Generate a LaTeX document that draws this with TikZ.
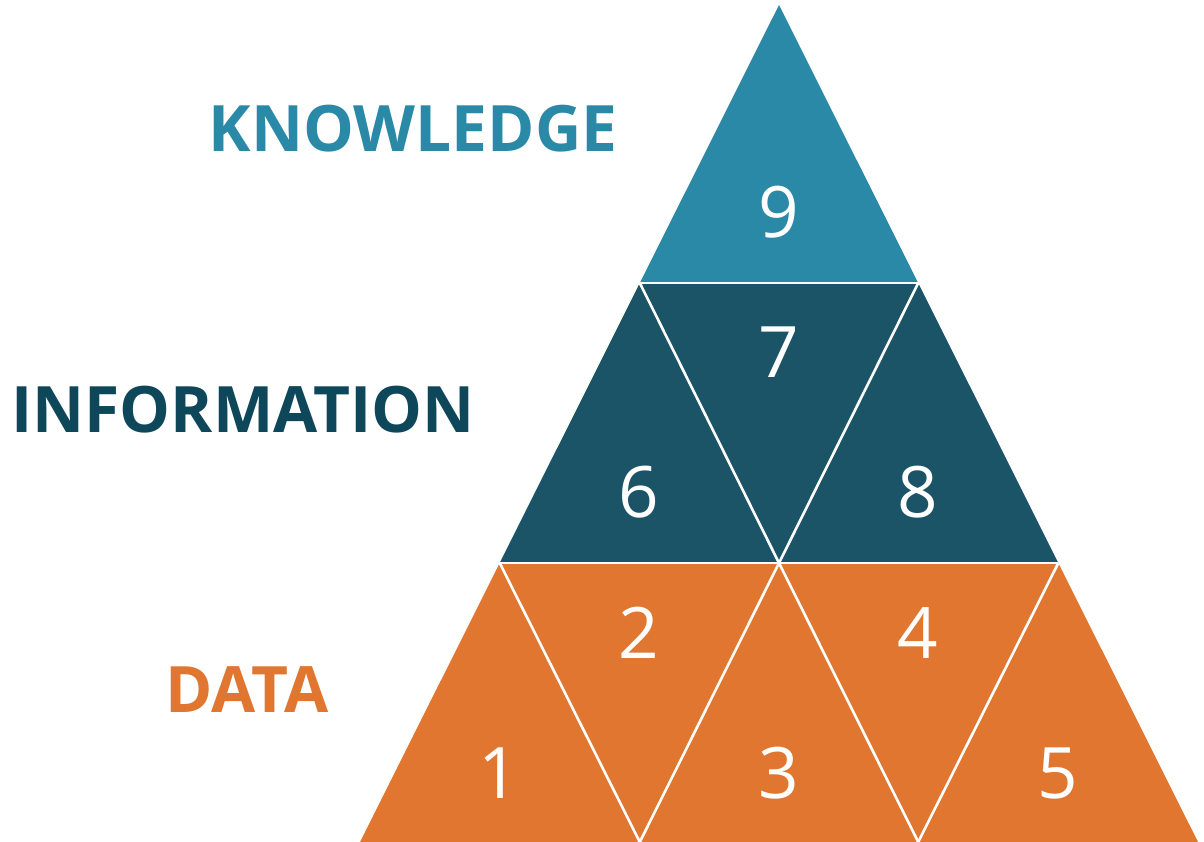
\documentclass[tikz,border=0pt]{standalone}
\usepackage{fontspec}
\setmainfont{Open Sans}
\definecolor{knowc}{HTML}{2A89A7}
\definecolor{infoc}{HTML}{1B5367}
\definecolor{infot}{HTML}{0F475A}
\definecolor{datac}{HTML}{E0762F}
\tikzset{
  tri/.style={draw=white, line width=2.6pt, line join=round},
  num/.style={text=white, inner sep=0pt, anchor=base, font=\fontsize{71}{71}\selectfont},
  lvl/.style={inner sep=0pt, anchor=base, font=\fontsize{64}{64}\selectfont\bfseries}
}
\begin{document}
\begin{tikzpicture}[x=1pt,y=-1pt]
\useasboundingbox (0,0) rectangle (1204,842);
% grid points
\coordinate (a) at (779,5);
\coordinate (b1) at (639.8,283);
\coordinate (b2) at (918.2,283);
\coordinate (c1) at (499.7,563);
\coordinate (c2) at (779,563);
\coordinate (c3) at (1058.3,563);
\coordinate (d1) at (360,842);
\coordinate (d2) at (639.8,842);
\coordinate (d3) at (918.2,842);
\coordinate (d4) at (1198,842);
% knowledge
\fill[knowc] (a) -- (b1) -- (b2) -- cycle;
% information
\fill[infoc] (b1) -- (b2) -- (c3) -- (c1) -- cycle;
% data
\fill[datac] (c1) -- (c3) -- (d4) -- (d1) -- cycle;
% white separators
\draw[tri] (b1) -- (b2);
\draw[tri] (c1) -- (c3);
\draw[tri] (b1) -- (c2) -- (b2);
\draw[tri] (c1) -- (d2) -- (c2) -- (d3) -- (c3);
% numbers
\node[num] (n9) at (779,237.5) {9};
\node[num] (n7) at (779,377) {7};
\node[num] (n6) at (639,517) {6};
\node[num] (n8) at (918,517) {8};
\node[num] (n2) at (639,658) {2};
\node[num] (n4) at (918,658) {4};
\node[num] (n1) at (499,798) {1};
\node[num] (n3) at (779,798) {3};
\node[num] (n5) at (1058,798) {5};
% level labels
\node[lvl, text=knowc] (know) at (413,152) {KNOWLEDGE};
\node[lvl, text=infot] (info) at (243,432) {INFORMATION};
\node[lvl, text=datac] (data) at (247,712) {DATA};
\end{tikzpicture}
\end{document}
